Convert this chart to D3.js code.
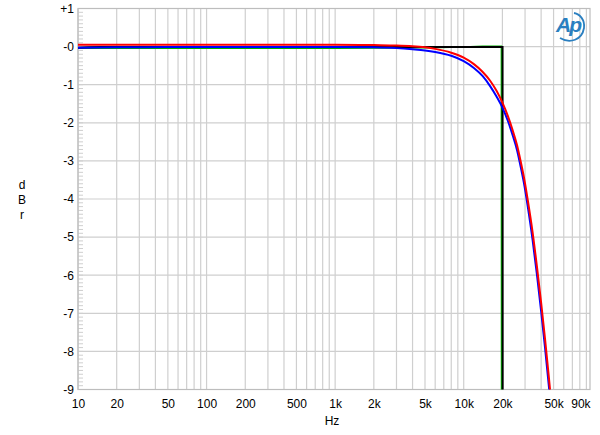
<!DOCTYPE html>
<html>
<head>
<meta charset="utf-8">
<script src="https://cdn.jsdelivr.net/npm/d3@7"></script>
<style>
  body { margin: 0; background: #fff; }
  svg { display: block; font-family: "Liberation Sans", Arial, sans-serif; }
</style>
</head>
<body>
<div id="chart"></div>
<script>
// frequency response data (Hz, dBr)
var redFreq  = [10, 20, 50, 100, 200, 500, 1000, 2000, 3000, 4000, 5000, 6000, 8000, 10000, 12000, 14000, 16000, 18000, 20000, 22000, 24000, 26000, 27800, 29700, 31500, 34300, 37100, 40000, 42900, 45800, 48700];
var redDb    = [0.05, 0.05, 0.05, 0.05, 0.05, 0.05, 0.05, 0.04, 0.03, 0.01, -0.02, -0.06, -0.16, -0.29, -0.46, -0.66, -0.89, -1.16, -1.47, -1.81, -2.19, -2.59, -3.03, -3.51, -4.03, -4.86, -5.77, -6.72, -7.67, -8.63, -9.58];

var blueFreq = [10, 20, 30, 50, 100, 200, 500, 1000, 2000, 3000, 4000, 5000, 6000, 8000, 10000, 12000, 14000, 16000, 18000, 20000, 22000, 24000, 26000, 27800, 29700, 31500, 34300, 37100, 40000, 42900, 45800, 48700];
var blueDb   = [-0.03, -0.02, -0.015, -0.01, -0.01, -0.01, -0.01, -0.01, -0.02, -0.04, -0.07, -0.10, -0.14, -0.24, -0.38, -0.56, -0.77, -1.03, -1.31, -1.6, -1.94, -2.32, -2.72, -3.17, -3.66, -4.2, -5.06, -5.98, -6.94, -7.9, -8.86, -9.82];

var blackFreq = [10, 12, 15, 20, 50, 100, 1000, 5000, 10000, 15000, 20050, 20100];
var blackDb   = [-0.03, -0.02, -0.01, -0.01, -0.01, -0.01, -0.01, -0.01, -0.01, -0.01, -0.01, -9.5];

var greenFreq = [10, 20, 100, 1000, 5000, 10000, 14000, 19650, 19700];
var greenDb   = [-0.04, -0.04, -0.04, -0.04, -0.03, -0.01, 0.01, 0.01, -9.5];

var xTicks = [10, 20, 50, 100, 200, 500, 1000, 2000, 5000, 10000, 20000, 50000, 90000];
var xTickLabels = ["10", "20", "50", "100", "200", "500", "1k", "2k", "5k", "10k", "20k", "50k", "90k"];
var yTicks = [1, 0, -1, -2, -3, -4, -5, -6, -7, -8, -9];
var yTickLabels = ["+1", "-0", "-1", "-2", "-3", "-4", "-5", "-6", "-7", "-8", "-9"];

var w = 600, h = 435;
var pLeft = 78, pRight = 590, pTop = 8.5, pBottom = 389.5;

var svg = d3.select("#chart").append("svg")
  .attr("width", w)
  .attr("height", h);

var x = d3.scaleLog().domain([10, 96000]).range([pLeft, pRight]);
var y = d3.scaleLinear().domain([-9, 1]).range([pBottom, pTop]);

// grid lines
var gridX = [];
[10, 100, 1000, 10000].forEach(function(dec) {
  for (var k = 1; k <= 9; k++) gridX.push(dec * k);
});

svg.append("g").selectAll("line")
  .data(gridX)
  .join("line")
  .attr("x1", function(d) { return x(d); })
  .attr("x2", function(d) { return x(d); })
  .attr("y1", pTop)
  .attr("y2", pBottom)
  .attr("stroke", "#cfcfcf")
  .attr("stroke-width", 1.2);

svg.append("g").selectAll("line")
  .data(d3.range(-9, 2))
  .join("line")
  .attr("x1", pLeft)
  .attr("x2", pRight)
  .attr("y1", function(d) { return y(d); })
  .attr("y2", function(d) { return y(d); })
  .attr("stroke", "#cfcfcf")
  .attr("stroke-width", 1.2);

// minor ticks on the left axis, every 0.1 dB
svg.append("g").selectAll("line")
  .data(d3.range(-90, 10).map(function(d) { return d / 10; }))
  .join("line")
  .attr("x1", pLeft)
  .attr("x2", pLeft + 5)
  .attr("y1", function(d) { return y(d); })
  .attr("y2", function(d) { return y(d); })
  .attr("stroke", "#cfcfcf")
  .attr("stroke-width", 1);

// frame
svg.append("rect")
  .attr("x", pLeft)
  .attr("y", pTop)
  .attr("width", pRight - pLeft)
  .attr("height", pBottom - pTop)
  .attr("fill", "none")
  .attr("stroke", "#bdbdbd")
  .attr("stroke-width", 1.2);

// axes labels
var xAxis = d3.axisBottom(x)
  .tickValues(xTicks)
  .tickFormat(function(d, i) { return xTickLabels[i]; })
  .tickSize(0)
  .tickPadding(10);

var gx = svg.append("g")
  .attr("transform", "translate(0," + pBottom + ")")
  .call(xAxis);
gx.select(".domain").remove();
gx.selectAll("text")
  .attr("font-size", 12)
  .attr("font-family", "Liberation Sans, Arial, sans-serif")
  .attr("fill", "#000");
// last label sits left of its grid line so it stays inside the picture
gx.selectAll(".tick").filter(function(d) { return d === 90000; })
  .select("text").attr("dx", -6);

var yAxis = d3.axisLeft(y)
  .tickValues(yTicks)
  .tickFormat(function(d, i) { return yTickLabels[i]; })
  .tickSize(0)
  .tickPadding(4);

var gy = svg.append("g")
  .attr("transform", "translate(" + pLeft + ",0)")
  .call(yAxis);
gy.select(".domain").remove();
gy.selectAll("text")
  .attr("font-size", 12)
  .attr("font-family", "Liberation Sans, Arial, sans-serif")
  .attr("fill", "#000");

svg.append("text")
  .attr("x", 332)
  .attr("y", 425)
  .attr("text-anchor", "middle")
  .attr("font-size", 12)
  .text("Hz");

["d", "B", "r"].forEach(function(c, i) {
  svg.append("text")
    .attr("x", 22)
    .attr("y", 189 + i * 15)
    .attr("text-anchor", "middle")
    .attr("font-size", 12)
    .text(c);
});

// curves
svg.append("clipPath").attr("id", "clip")
  .append("rect")
  .attr("x", pLeft)
  .attr("y", pTop)
  .attr("width", pRight - pLeft)
  .attr("height", pBottom - pTop);

var line = d3.line()
  .x(function(d) { return x(d[0]); })
  .y(function(d) { return y(d[1]); })
  .curve(d3.curveMonotoneX);

var straight = d3.line()
  .x(function(d) { return x(d[0]); })
  .y(function(d) { return y(d[1]); });

var plot = svg.append("g").attr("clip-path", "url(#clip)");

plot.append("path")
  .attr("d", straight(d3.zip(greenFreq, greenDb)))
  .attr("fill", "none")
  .attr("stroke", "#00b000")
  .attr("stroke-width", 1.6);

plot.append("path")
  .attr("d", straight(d3.zip(blackFreq, blackDb)))
  .attr("fill", "none")
  .attr("stroke", "#000")
  .attr("stroke-width", 2);

plot.append("path")
  .attr("d", line(d3.zip(blueFreq, blueDb)))
  .attr("fill", "none")
  .attr("stroke", "#0000ff")
  .attr("stroke-width", 2);

plot.append("path")
  .attr("d", line(d3.zip(redFreq, redDb)))
  .attr("fill", "none")
  .attr("stroke", "#ff0000")
  .attr("stroke-width", 2);

// AP logo
var logo = svg.append("g").attr("transform", "translate(556,12)");
logo.append("text")
  .attr("x", 0)
  .attr("y", 20)
  .attr("font-size", 21)
  .attr("font-style", "italic")
  .attr("font-weight", "bold")
  .attr("font-family", "Liberation Sans, Arial, sans-serif")
  .attr("fill", "#2a7fc0")
  .attr("letter-spacing", -2)
  .text("Ap");
logo.append("path")
  .attr("d", "M4,26 C14,32 26,28 28,16 C29,8 24,2 18,1")
  .attr("fill", "none")
  .attr("stroke", "#2a7fc0")
  .attr("stroke-width", 1.8);
</script>
</body>
</html>
